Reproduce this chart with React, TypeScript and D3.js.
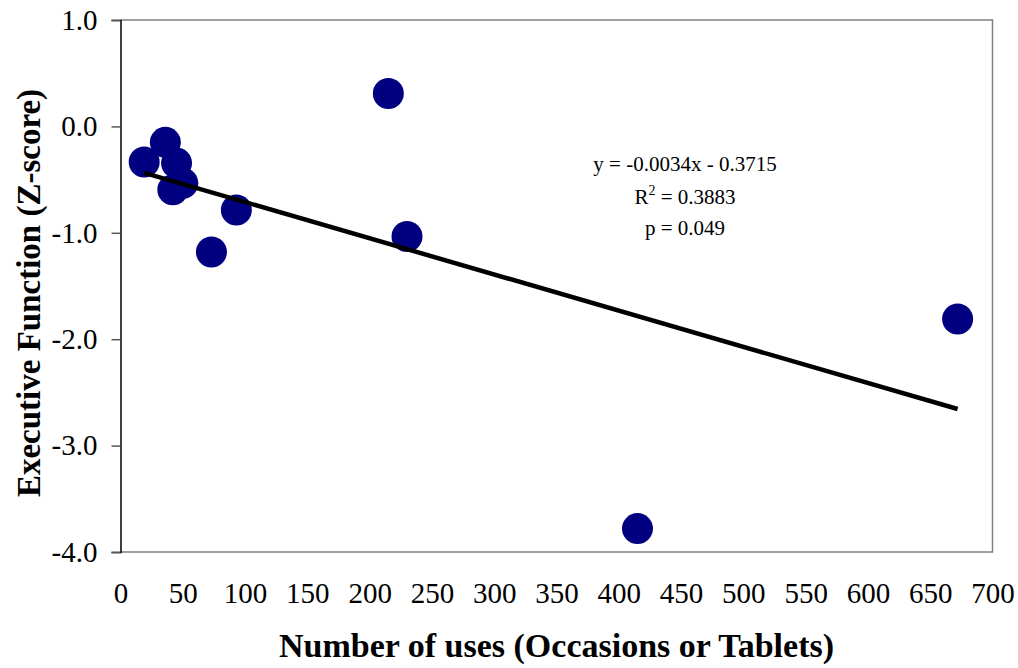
import { useEffect, useRef } from 'react'
import * as d3 from 'd3'

// number of uses (occasions or tablets)
const usesX = [19, 36, 45, 42, 50, 73, 93, 215, 230, 415, 672]
// executive function z-score
const scoreY = [-0.335, -0.15, -0.345, -0.595, -0.535, -1.18, -0.785, 0.31, -1.035, -3.78, -1.81]
const xTicks = [0, 50, 100, 150, 200, 250, 300, 350, 400, 450, 500, 550, 600, 650, 700]
const yTicks = [1, 0, -1, -2, -3, -4]
const slope = -0.0034
const intercept = -0.3715

export default function App() {
  const svgRef = useRef<SVGSVGElement>(null)

  useEffect(() => {
    if (!svgRef.current) return
    const svg = d3.select(svgRef.current)
    svg.selectAll('*').remove()

    const width = 1018
    const height = 668
    const left = 120.5
    const right = 992.5
    const top = 20
    const bottom = 552
    const font = '"Liberation Serif", "Times New Roman", serif'

    const x = d3.scaleLinear().domain([0, 700]).range([left, right])
    const y = d3.scaleLinear().domain([-4, 1]).range([bottom, top])

    svg.append('rect').attr('width', width).attr('height', height).attr('fill', '#fff')

    // plot frame (top, right, bottom gray)
    svg.append('path')
      .attr('d', `M${left},${top}H${right}V${bottom}H${left}`)
      .attr('fill', 'none')
      .attr('stroke', '#808080')
      .attr('stroke-width', 1.5)

    // y axis
    const yAxis = svg.append('g')
      .attr('transform', `translate(${left},0)`)
      .call(d3.axisLeft(y).tickValues(yTicks).tickSize(9).tickPadding(14))
    yAxis.select('.domain').attr('stroke', '#000').attr('stroke-width', 1.5)
    yAxis.selectAll('.tick line').attr('stroke', '#555').attr('stroke-width', 1.5)
    yAxis.selectAll('text')
      .attr('font-family', font)
      .attr('font-size', 29)
      .attr('fill', '#000')
      .text(d => d3.format('.1f')(d as number).replace('−', '-'))

    // x tick labels (no tick marks)
    const xAxis = svg.append('g')
      .attr('transform', `translate(0,${bottom})`)
      .call(d3.axisBottom(x).tickValues(xTicks).tickSize(0).tickPadding(30))
    xAxis.select('.domain').remove()
    xAxis.selectAll('text')
      .attr('font-family', font)
      .attr('font-size', 29)
      .attr('fill', '#000')

    const ext = d3.extent(usesX) as [number, number]

    // points
    svg.append('g')
      .selectAll('circle')
      .data(usesX.map((u, i) => [u, scoreY[i]]))
      .enter()
      .append('circle')
      .attr('cx', d => x(d[0]))
      .attr('cy', d => y(d[1]))
      .attr('r', 15.5)
      .attr('fill', '#000080')

    // trend line
    svg.append('line')
      .attr('x1', x(ext[0]))
      .attr('y1', y(slope * ext[0] + intercept))
      .attr('x2', x(ext[1]))
      .attr('y2', y(slope * ext[1] + intercept))
      .attr('stroke', '#000')
      .attr('stroke-width', 4.5)

    // equation
    const eq = svg.append('g')
      .attr('font-family', font)
      .attr('font-size', 21)
      .attr('text-anchor', 'middle')
      .attr('fill', '#000')
    eq.append('text').attr('x', 685).attr('y', 171).text('y = -0.0034x - 0.3715')
    const r2 = eq.append('text').attr('x', 685).attr('y', 204)
    r2.append('tspan').text('R')
    r2.append('tspan').attr('dy', -9).attr('font-size', 14).text('2')
    r2.append('tspan').attr('dy', 9).text(' = 0.3883')
    eq.append('text').attr('x', 685).attr('y', 235).text('p = 0.049')

    // axis titles
    svg.append('text')
      .attr('x', (left + right) / 2)
      .attr('y', 657)
      .attr('text-anchor', 'middle')
      .attr('font-family', font)
      .attr('font-weight', 'bold')
      .attr('font-size', 34)
      .text('Number of uses (Occasions or Tablets)')

    svg.append('text')
      .attr('transform', `translate(40,${(top + bottom) / 2 + 7}) rotate(-90)`)
      .attr('text-anchor', 'middle')
      .attr('font-family', font)
      .attr('font-weight', 'bold')
      .attr('font-size', 33)
      .text('Executive Function (Z-score)')
  }, [])

  return (
    <svg
      ref={svgRef}
      width={1018}
      height={668}
      style={{ position: 'absolute', left: 0, top: 0, display: 'block' }}
    />
  )
}
